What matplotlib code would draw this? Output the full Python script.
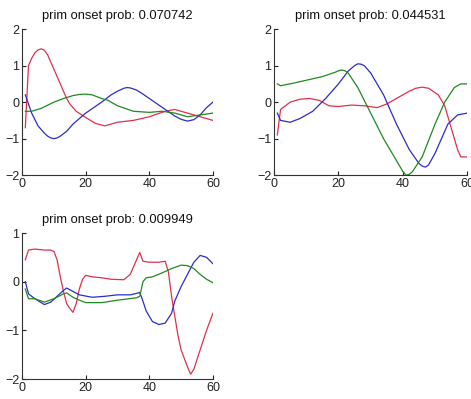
import matplotlib.pyplot as plt
import numpy as np

plt.rcParams['font.family'] = ['Liberation Sans', 'DejaVu Sans']

titles = ['prim onset prob: 0.070742', 'prim onset prob: 0.044531', 'prim onset prob: 0.009949']
ylims = [(-2, 2), (-2, 2), (-2, 1)]

# panel 1
p1_red_x = [1, 2, 3, 4, 5, 6, 7, 8, 10, 12, 14, 15, 17, 20, 23, 26, 28, 30, 35, 40, 45, 48, 52, 56, 60]
p1_red_y = [-0.7, 1.0, 1.2, 1.35, 1.43, 1.46, 1.42, 1.3, 0.9, 0.5, 0.1, -0.05, -0.25, -0.42, -0.58, -0.65, -0.6, -0.55, -0.5, -0.4, -0.25, -0.2, -0.3, -0.4, -0.5]
p1_blue_x = [1, 3, 5, 7, 8, 9, 10, 11, 12, 14, 16, 20, 25, 28, 30, 32, 33, 34, 36, 38, 40, 45, 48, 50, 52, 54, 56, 58, 60]
p1_blue_y = [0.2, -0.3, -0.65, -0.85, -0.93, -0.98, -1.0, -0.98, -0.93, -0.8, -0.6, -0.3, 0.0, 0.2, 0.3, 0.38, 0.4, 0.39, 0.33, 0.22, 0.1, -0.2, -0.38, -0.47, -0.52, -0.48, -0.35, -0.15, 0.0]
p1_green_x = [1, 3, 6, 10, 13, 16, 18, 20, 22, 25, 27, 30, 35, 40, 44, 48, 52, 56, 60]
p1_green_y = [-0.25, -0.25, -0.17, 0.0, 0.1, 0.18, 0.21, 0.22, 0.2, 0.1, 0.05, -0.1, -0.25, -0.28, -0.25, -0.3, -0.4, -0.35, -0.3]

# panel 2
p2_blue_x = [1, 2, 5, 8, 12, 16, 20, 23, 25, 26, 27, 28, 30, 34, 38, 42, 45, 46, 47, 48, 50, 54, 57, 60]
p2_blue_y = [-0.3, -0.5, -0.55, -0.45, -0.25, 0.1, 0.5, 0.85, 1.0, 1.05, 1.04, 1.0, 0.8, 0.2, -0.6, -1.3, -1.68, -1.75, -1.78, -1.72, -1.4, -0.6, -0.35, -0.3]
p2_green_x = [1, 2, 6, 10, 15, 19, 20, 21, 22, 23, 26, 30, 34, 38, 40, 41, 42, 43, 46, 50, 53, 56, 58, 60]
p2_green_y = [0.5, 0.45, 0.52, 0.6, 0.7, 0.82, 0.86, 0.88, 0.86, 0.8, 0.4, -0.3, -1.0, -1.6, -1.9, -2.0, -1.98, -1.9, -1.5, -0.6, 0.0, 0.4, 0.5, 0.5]
p2_red_x = [1, 2, 5, 8, 11, 14, 17, 20, 24, 28, 32, 35, 38, 42, 44, 46, 48, 51, 53, 55, 57, 58, 60]
p2_red_y = [-0.9, -0.2, 0.0, 0.08, 0.1, 0.05, -0.1, -0.12, -0.08, -0.1, -0.15, -0.05, 0.1, 0.3, 0.38, 0.41, 0.38, 0.2, -0.1, -0.7, -1.3, -1.5, -1.5]

# panel 3
p3_red_x = [1, 2, 4, 7, 9, 10, 11, 12, 13, 14, 15, 16, 17, 18, 19, 20, 22, 25, 28, 32, 34, 35, 36, 37, 38, 40, 43, 45, 46, 47, 48, 49, 50, 52, 53, 54, 56, 58, 60]
p3_red_y = [0.45, 0.65, 0.67, 0.65, 0.65, 0.62, 0.45, 0.1, -0.2, -0.45, -0.55, -0.63, -0.45, -0.15, 0.05, 0.13, 0.1, 0.08, 0.05, 0.04, 0.15, 0.3, 0.45, 0.6, 0.42, 0.4, 0.4, 0.42, 0.2, -0.3, -0.7, -1.1, -1.4, -1.75, -1.9, -1.8, -1.4, -1.0, -0.65]
p3_blue_x = [1, 2, 4, 7, 9, 11, 13, 14, 16, 18, 22, 26, 30, 34, 36, 37, 38, 39, 41, 43, 45, 47, 48, 50, 52, 54, 56, 58, 60]
p3_blue_y = [0.0, -0.25, -0.35, -0.47, -0.42, -0.3, -0.18, -0.13, -0.2, -0.27, -0.32, -0.3, -0.27, -0.27, -0.24, -0.22, -0.4, -0.6, -0.82, -0.88, -0.85, -0.65, -0.4, -0.1, 0.15, 0.4, 0.54, 0.5, 0.37]
p3_green_x = [1, 2, 4, 7, 10, 13, 14, 16, 18, 20, 25, 30, 36, 37, 38, 39, 41, 44, 47, 50, 52, 54, 56, 58, 60]
p3_green_y = [-0.15, -0.35, -0.35, -0.42, -0.35, -0.25, -0.23, -0.32, -0.38, -0.43, -0.43, -0.38, -0.33, -0.3, 0.0, 0.08, 0.1, 0.18, 0.27, 0.34, 0.33, 0.27, 0.15, 0.05, -0.02]

red = '#e0304e'
blue = '#2c2cc8'
green = '#1f8a1f'

panels = [
    [(p1_red_x, p1_red_y, red), (p1_blue_x, p1_blue_y, blue), (p1_green_x, p1_green_y, green)],
    [(p2_red_x, p2_red_y, red), (p2_blue_x, p2_blue_y, blue), (p2_green_x, p2_green_y, green)],
    [(p3_red_x, p3_red_y, red), (p3_blue_x, p3_blue_y, blue), (p3_green_x, p3_green_y, green)],
]
rects = [
    [0.047, 0.561, 0.405, 0.366],
    [0.582, 0.561, 0.410, 0.366],
    [0.047, 0.050, 0.405, 0.366],
]

fig = plt.figure(figsize=(4.71, 3.99), dpi=100)
for i in range(3):
    ax = fig.add_axes(rects[i])
    for xs, ys, c in panels[i]:
        ax.plot(xs, ys, color=c, lw=0.9)
    ax.set_xlim(0, 60)
    ax.set_ylim(*ylims[i])
    ax.set_xticks([0, 20, 40, 60])
    ax.set_yticks(np.arange(ylims[i][0], ylims[i][1] + 1))
    ax.tick_params(direction='in', length=3, labelsize=9, colors='#222222', pad=2)
    ax.spines['top'].set_visible(False)
    ax.spines['right'].set_visible(False)
    ax.spines['left'].set_color('#333333')
    ax.spines['bottom'].set_color('#333333')
    ax.set_title(titles[i], fontsize=9.3, pad=7, color='#111111')

fig.savefig('out.png', dpi=100)
